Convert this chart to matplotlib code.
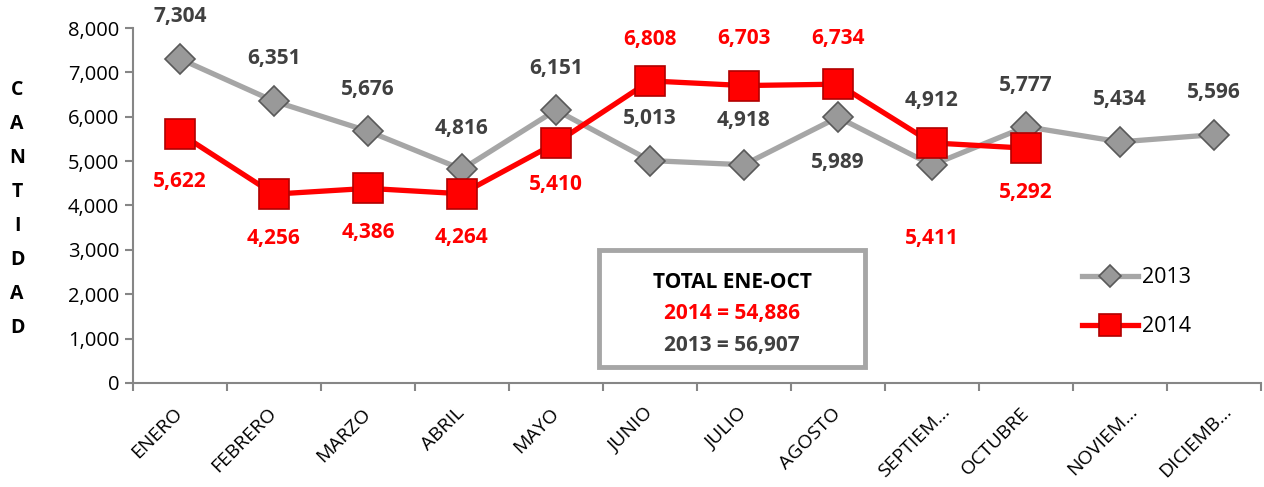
import numpy as np
import matplotlib.pyplot as plt
from matplotlib.patches import FancyBboxPatch
from matplotlib.transforms import ScaledTranslation

plt.rcParams['font.family'] = ['Open Sans', 'DejaVu Sans']

# datos
meses = ['ENERO', 'FEBRERO', 'MARZO', 'ABRIL', 'MAYO', 'JUNIO', 'JULIO',
         'AGOSTO', 'SEPTIEM…', 'OCTUBRE', 'NOVIEM…', 'DICIEMB…']
v2013 = [7304, 6351, 5676, 4816, 6151, 5013, 4918, 5989, 4912, 5777, 5434, 5596]
v2014 = [5622, 4256, 4386, 4264, 5410, 6808, 6703, 6734, 5411, 5292]
total_2014 = 54886
total_2013 = 56907

# desplazamiento de etiquetas (px, + arriba / - abajo)
off2013 = [42, 43, 42, 41, 42, 42, 44, -45, 65, 41, 42, 42]
off2014 = [-48, -44, -44, -44, -42, 41, 47, 46, -96, -44]

GRIS = '#A6A6A6'
ROJO = '#FF0000'
GRIS_TXT = '#404040'

fig = plt.figure(figsize=(12.64, 4.87), dpi=100)
ax = fig.add_axes([0.1052, 0.2136, 0.8924, 0.7289])

x13 = np.arange(len(v2013))
x14 = np.arange(len(v2014))
ax.plot(x13, v2013, color=GRIS, lw=3.8, marker='D', ms=15,
        mfc='#999999', mec='#595959', mew=1.2, label='2013', zorder=3)
ax.plot(x14, v2014, color=ROJO, lw=3.8, marker='s', ms=22,
        mfc=ROJO, mec='#B00000', mew=1.2, label='2014', zorder=4)

for i, v in enumerate(v2013):
    ax.annotate(f'{v:,}', (i, v), xytext=(0, off2013[i] * 0.72),
                textcoords='offset points', ha='center', va='center',
                fontsize=15, fontweight='bold', color=GRIS_TXT, zorder=5)
for i, v in enumerate(v2014):
    ax.annotate(f'{v:,}', (i, v), xytext=(0, off2014[i] * 0.72),
                textcoords='offset points', ha='center', va='center',
                fontsize=15, fontweight='bold', color=ROJO, zorder=5)

ax.set_xlim(-0.5, len(meses) - 0.5)
ax.set_ylim(0, 8000)
ax.set_yticks(np.arange(0, 8001, 1000))
ax.set_yticklabels([f'{t:,}' for t in range(0, 8001, 1000)], fontsize=14.5)
ax.set_xticks(x13)
ax.set_xticklabels(meses, fontsize=14, rotation=45, ha='right',
                   rotation_mode='anchor', va='center')
ax.set_xticks(np.arange(-0.5, len(meses)), minor=True)
ax.tick_params(axis='x', which='major', length=0, pad=20)
ax.tick_params(axis='x', which='minor', length=6, color='#868686', width=1.5)
ax.tick_params(axis='y', length=6, color='#868686', width=1.5, pad=4)

# las etiquetas recortadas quedan algo desplazadas a la derecha
for lab in ax.get_xticklabels():
    if lab.get_text().endswith('…'):
        lab.set_transform(lab.get_transform() +
                          ScaledTranslation(0.15, 0.02, fig.dpi_scale_trans))

for s in ['top', 'right']:
    ax.spines[s].set_visible(False)
for s in ['left', 'bottom']:
    ax.spines[s].set_color('#868686')
    ax.spines[s].set_linewidth(1.5)

# etiqueta vertical del eje Y
fig.text(17 / 1264, 1 - 209 / 487, '\n'.join('CANTIDAD'), ha='center',
         va='center', fontsize=14, fontweight='bold', linespacing=1.94)

# cuadro de totales
box = FancyBboxPatch((599 / 1264, 1 - 367 / 487), 266 / 1264, 117 / 487,
                     boxstyle='square,pad=0', transform=fig.transFigure,
                     fc='white', ec=GRIS, lw=3.5, zorder=6)
fig.patches.append(box)
fig.text(732 / 1264, 1 - 282 / 487, 'TOTAL ENE-OCT', ha='center', va='center',
         fontsize=15, fontweight='bold', color='black', zorder=7)
fig.text(732 / 1264, 1 - 314 / 487, f'2014 = {total_2014:,}', ha='center',
         va='center', fontsize=15, fontweight='bold', color=ROJO, zorder=7)
fig.text(732 / 1264, 1 - 346 / 487, f'2013 = {total_2013:,}', ha='center',
         va='center', fontsize=15, fontweight='bold', color=GRIS_TXT, zorder=7)

leg = ax.legend(loc='upper left', bbox_to_anchor=(1063 / 1264, 1 - 248 / 487),
                bbox_transform=fig.transFigure, frameon=False, fontsize=15.5,
                labelspacing=1.3, handlelength=2.6, handletextpad=0.15,
                markerscale=0.75)

fig.savefig('out.png', dpi=100)
